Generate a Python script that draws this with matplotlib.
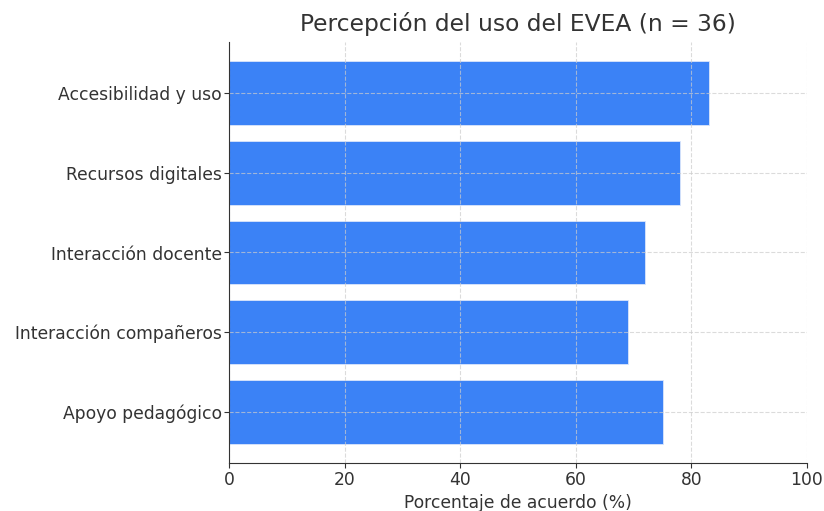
import matplotlib.pyplot as plt

categorias = ['Accesibilidad y uso', 'Recursos digitales', 'Interacción docente',
              'Interacción compañeros', 'Apoyo pedagógico']
porcentajes = [83, 78, 72, 69, 75]

plt.rcParams['font.family'] = ['DejaVu Sans']
plt.rcParams['text.color'] = '#333333'
plt.rcParams['axes.labelcolor'] = '#333333'
plt.rcParams['xtick.color'] = '#333333'
plt.rcParams['ytick.color'] = '#333333'

fig = plt.figure(figsize=(8.24, 5.11), dpi=100)
ax = fig.add_axes([229 / 824, 48 / 511, 578 / 824, 421 / 511])

ax.barh(categorias, porcentajes, height=0.8, color='#3b82f6', edgecolor='#dbe6fb', linewidth=0.6)
ax.invert_yaxis()
ax.set_xlim(0, 100)
ax.grid(True, linestyle='--', color='#cccccc', alpha=0.7)
ax.set_axisbelow(False)

ax.spines['top'].set_visible(False)
ax.spines['right'].set_visible(False)
for s in ('left', 'bottom'):
    ax.spines[s].set_color('#333333')
    ax.spines[s].set_zorder(4)

ax.tick_params(axis='y', labelsize=12.3, pad=1.5)
ax.tick_params(axis='x', labelsize=12.3, pad=2.5)
ax.set_xlabel('Porcentaje de acuerdo (%)', fontsize=12.3, labelpad=3)
ax.set_title('Percepción del uso del EVEA (n = 36)', fontsize=16.8, pad=8)

fig.savefig('out.png', dpi=100)
